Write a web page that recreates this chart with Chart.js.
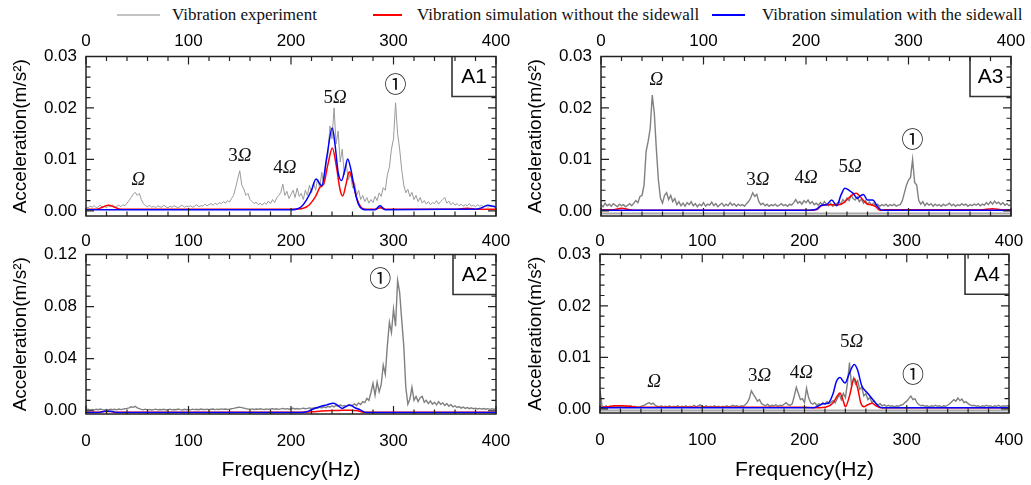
<!DOCTYPE html>
<html>
<head>
<meta charset="utf-8">
<script src="https://cdn.jsdelivr.net/npm/chart.js@4"></script>
<style>
  body { margin: 0; background: #fff; width: 1031px; height: 485px; overflow: hidden; position: relative; }
  canvas { position: absolute; }
  .leg-line { position: absolute; height: 2px; top: 14px; }
  .leg-text { position: absolute; top: 6px; font: 17px/17px "Liberation Serif", serif; color: #111; white-space: nowrap; }
</style>
</head>
<body>
<div class="leg-line" style="left:117px;width:43px;background:#c4c4c4"></div>
<span class="leg-text" style="left:172px">Vibration experiment</span>
<div class="leg-line" style="left:373px;width:29px;background:#ff0000"></div>
<span class="leg-text" style="left:417px">Vibration simulation without the sidewall</span>
<div class="leg-line" style="left:712px;width:33px;background:#0000ff"></div>
<span class="leg-text" style="left:762px">Vibration simulation with the sidewall</span>

<canvas id="cA1" width="515" height="202" style="left:0;top:28px"></canvas>
<canvas id="cA3" width="516" height="202" style="left:515px;top:28px"></canvas>
<canvas id="cA2" width="515" height="255" style="left:0;top:230px"></canvas>
<canvas id="cA4" width="516" height="255" style="left:515px;top:230px"></canvas>

<script>
// ---- axes ----
const xMajorTicks = [0, 100, 200, 300, 400];
const yMajorSmall = [0, 0.01, 0.02, 0.03];   // A1, A3, A4
const yMajorBig = [0, 0.04, 0.08, 0.12];     // A2
const minorSplit = 5;

// ---- experiment spectra, one value every 2 Hz from 0 to 400 Hz (m/s^2) ----
const grayStep = 2;
const a1Gray = [
  0.0008, 0.0006, 0.0009, 0.0007, 0.0010, 0.0006, 0.0008, 0.0011, 0.0007, 0.0009,
  0.0006, 0.0010, 0.0008, 0.0012, 0.0007, 0.0009, 0.0011, 0.0008, 0.0012, 0.0010,
  0.0015, 0.0020, 0.0026, 0.0032, 0.0036, 0.0030, 0.0034, 0.0022, 0.0014, 0.0010,
  0.0008, 0.0011, 0.0007, 0.0009, 0.0006, 0.0010, 0.0008, 0.0007, 0.0011, 0.0008,
  0.0006, 0.0009, 0.0007, 0.0010, 0.0008, 0.0006, 0.0009, 0.0011, 0.0007, 0.0009,
  0.0008, 0.0010, 0.0007, 0.0009, 0.0012, 0.0008, 0.0010, 0.0009, 0.0013, 0.0010,
  0.0012, 0.0014, 0.0011, 0.0015, 0.0012, 0.0016, 0.0014, 0.0018, 0.0015, 0.0020,
  0.0017, 0.0024, 0.0030, 0.0045, 0.0062, 0.0078, 0.0050, 0.0042, 0.0030, 0.0034,
  0.0022, 0.0018, 0.0014, 0.0017, 0.0012, 0.0015, 0.0011, 0.0016, 0.0013, 0.0019,
  0.0014, 0.0022, 0.0016, 0.0025, 0.0030, 0.0035, 0.0052, 0.0030, 0.0038, 0.0024,
  0.0032, 0.0040, 0.0026, 0.0044, 0.0028, 0.0034, 0.0022, 0.0040, 0.0030, 0.0050,
  0.0035, 0.0055, 0.0040, 0.0062, 0.0045, 0.0075, 0.0050, 0.0090, 0.0110, 0.0165,
  0.0140, 0.0200, 0.0130, 0.0155, 0.0095, 0.0120, 0.0070, 0.0090, 0.0060, 0.0075,
  0.0045, 0.0055, 0.0030, 0.0040, 0.0022, 0.0030, 0.0018, 0.0026, 0.0015, 0.0022,
  0.0016, 0.0028, 0.0020, 0.0035, 0.0028, 0.0045, 0.0040, 0.0070, 0.0085, 0.0120,
  0.0140, 0.0210, 0.0150, 0.0120, 0.0080, 0.0050, 0.0035, 0.0042, 0.0028, 0.0036,
  0.0022, 0.0030, 0.0018, 0.0026, 0.0015, 0.0020, 0.0013, 0.0018, 0.0012, 0.0016,
  0.0014, 0.0020, 0.0013, 0.0018, 0.0022, 0.0026, 0.0015, 0.0019, 0.0012, 0.0016,
  0.0011, 0.0014, 0.0010, 0.0013, 0.0009, 0.0012, 0.0010, 0.0014, 0.0009, 0.0011,
  0.0008, 0.0012, 0.0009, 0.0011, 0.0008, 0.0010, 0.0007, 0.0009, 0.0008, 0.0010,
  0.0007
];
const a3Gray = [
  0.0012, 0.0008, 0.0015, 0.0010, 0.0013, 0.0009, 0.0014, 0.0011, 0.0008, 0.0013,
  0.0010, 0.0012, 0.0008, 0.0011, 0.0014, 0.0010, 0.0015, 0.0020, 0.0016, 0.0028,
  0.0030, 0.0050, 0.0115, 0.0135, 0.0160, 0.0225, 0.0190, 0.0120, 0.0060, 0.0025,
  0.0015, 0.0030, 0.0035, 0.0022, 0.0030, 0.0018, 0.0024, 0.0012, 0.0018, 0.0010,
  0.0015, 0.0009, 0.0016, 0.0012, 0.0018, 0.0010, 0.0014, 0.0008, 0.0013, 0.0010,
  0.0016, 0.0009, 0.0013, 0.0011, 0.0017, 0.0010, 0.0014, 0.0008, 0.0012, 0.0015,
  0.0009, 0.0013, 0.0010, 0.0016, 0.0011, 0.0014, 0.0009, 0.0013, 0.0010, 0.0012,
  0.0009, 0.0014, 0.0018, 0.0025, 0.0035, 0.0028, 0.0032, 0.0018, 0.0012, 0.0015,
  0.0010, 0.0013, 0.0009, 0.0012, 0.0010, 0.0013, 0.0009, 0.0011, 0.0014, 0.0010,
  0.0012, 0.0009, 0.0013, 0.0011, 0.0016, 0.0022, 0.0015, 0.0018, 0.0013, 0.0020,
  0.0016, 0.0021, 0.0014, 0.0018, 0.0012, 0.0015, 0.0011, 0.0016, 0.0012, 0.0018,
  0.0013, 0.0010, 0.0015, 0.0009, 0.0012, 0.0014, 0.0018, 0.0013, 0.0022, 0.0017,
  0.0025, 0.0020, 0.0030, 0.0024, 0.0021, 0.0027, 0.0018, 0.0023, 0.0015, 0.0020,
  0.0013, 0.0017, 0.0011, 0.0015, 0.0010, 0.0013, 0.0009, 0.0012, 0.0010, 0.0013,
  0.0009, 0.0012, 0.0010, 0.0013, 0.0009, 0.0011, 0.0012, 0.0020, 0.0035, 0.0050,
  0.0060, 0.0065, 0.0100, 0.0055, 0.0050, 0.0020, 0.0013, 0.0018, 0.0010, 0.0015,
  0.0011, 0.0014, 0.0009, 0.0013, 0.0010, 0.0012, 0.0009, 0.0013, 0.0010, 0.0012,
  0.0015, 0.0010, 0.0013, 0.0009, 0.0012, 0.0010, 0.0014, 0.0011, 0.0013, 0.0009,
  0.0012, 0.0010, 0.0013, 0.0011, 0.0014, 0.0010, 0.0013, 0.0011, 0.0016, 0.0012,
  0.0018, 0.0013, 0.0019, 0.0014, 0.0017, 0.0012, 0.0016, 0.0011, 0.0014, 0.0010,
  0.0012
];
const a2Gray = [
  0.0008, 0.0012, 0.0006, 0.0010, 0.0007, 0.0011, 0.0008, 0.0013, 0.0009, 0.0007,
  0.0010, 0.0006, 0.0012, 0.0008, 0.0011, 0.0007, 0.0013, 0.0009, 0.0012, 0.0015,
  0.0018, 0.0022, 0.0030, 0.0026, 0.0034, 0.0022, 0.0016, 0.0011, 0.0008, 0.0012,
  0.0007, 0.0010, 0.0006, 0.0009, 0.0012, 0.0007, 0.0010, 0.0008, 0.0011, 0.0006,
  0.0009, 0.0012, 0.0007, 0.0010, 0.0008, 0.0013, 0.0009, 0.0006, 0.0011, 0.0008,
  0.0010, 0.0007, 0.0012, 0.0009, 0.0011, 0.0008, 0.0013, 0.0010, 0.0009, 0.0012,
  0.0008, 0.0011, 0.0013, 0.0009, 0.0012, 0.0010, 0.0014, 0.0011, 0.0013, 0.0010,
  0.0012, 0.0015, 0.0018, 0.0022, 0.0025, 0.0028, 0.0024, 0.0020, 0.0016, 0.0013,
  0.0011, 0.0014, 0.0010, 0.0013, 0.0011, 0.0015, 0.0012, 0.0010, 0.0014, 0.0011,
  0.0013, 0.0016, 0.0012, 0.0015, 0.0011, 0.0014, 0.0018, 0.0013, 0.0016, 0.0012,
  0.0015, 0.0019, 0.0014, 0.0017, 0.0013, 0.0016, 0.0020, 0.0015, 0.0018, 0.0022,
  0.0017, 0.0021, 0.0025, 0.0019, 0.0028, 0.0022, 0.0030, 0.0024, 0.0034, 0.0027,
  0.0038, 0.0030, 0.0042, 0.0033, 0.0045, 0.0036, 0.0040, 0.0032, 0.0046, 0.0038,
  0.0042, 0.0052, 0.0040, 0.0060, 0.0048, 0.0070, 0.0062, 0.0095, 0.0080, 0.0140,
  0.0210, 0.0120, 0.0220, 0.0145, 0.0200, 0.0350, 0.0280, 0.0500, 0.0680, 0.0600,
  0.0780, 0.0650, 0.1000, 0.0910, 0.0700, 0.0500, 0.0180, 0.0050, 0.0090, 0.0180,
  0.0080, 0.0110, 0.0070, 0.0100, 0.0110, 0.0065, 0.0080, 0.0055, 0.0075, 0.0050,
  0.0065, 0.0045, 0.0070, 0.0050, 0.0060, 0.0040, 0.0055, 0.0035, 0.0048, 0.0030,
  0.0038, 0.0025, 0.0032, 0.0020, 0.0028, 0.0018, 0.0025, 0.0016, 0.0022, 0.0015,
  0.0020, 0.0014, 0.0018, 0.0013, 0.0017, 0.0012, 0.0016, 0.0011, 0.0015, 0.0012,
  0.0014
];
const a4Gray = [
  0.0036, 0.0005, 0.0004, 0.0006, 0.0003, 0.0005, 0.0004, 0.0006, 0.0003, 0.0005,
  0.0004, 0.0006, 0.0003, 0.0005, 0.0004, 0.0006, 0.0003, 0.0005, 0.0004, 0.0003,
  0.0005, 0.0006, 0.0008, 0.0010, 0.0012, 0.0009, 0.0011, 0.0007, 0.0005, 0.0004,
  0.0006, 0.0003, 0.0005, 0.0004, 0.0006, 0.0003, 0.0005, 0.0004, 0.0006, 0.0003,
  0.0005, 0.0004, 0.0006, 0.0003, 0.0005, 0.0004, 0.0007, 0.0004, 0.0006, 0.0008,
  0.0005, 0.0004, 0.0006, 0.0003, 0.0005, 0.0004, 0.0006, 0.0004, 0.0005, 0.0003,
  0.0005, 0.0004, 0.0006, 0.0004, 0.0005, 0.0007, 0.0005, 0.0006, 0.0004, 0.0006,
  0.0005, 0.0008, 0.0012, 0.0020, 0.0035, 0.0028, 0.0022, 0.0015, 0.0018, 0.0010,
  0.0008, 0.0006, 0.0009, 0.0005, 0.0007, 0.0006, 0.0008, 0.0005, 0.0007, 0.0006,
  0.0009, 0.0012, 0.0008, 0.0007, 0.0010, 0.0025, 0.0042, 0.0030, 0.0018, 0.0020,
  0.0012, 0.0040, 0.0022, 0.0012, 0.0009, 0.0012, 0.0007, 0.0010, 0.0008, 0.0012,
  0.0009, 0.0014, 0.0010, 0.0013, 0.0016, 0.0012, 0.0020, 0.0028, 0.0018, 0.0030,
  0.0022, 0.0050, 0.0090, 0.0045, 0.0060, 0.0048, 0.0055, 0.0038, 0.0042, 0.0025,
  0.0030, 0.0018, 0.0022, 0.0012, 0.0016, 0.0010, 0.0008, 0.0010, 0.0006, 0.0008,
  0.0005, 0.0007, 0.0005, 0.0006, 0.0004, 0.0006, 0.0005, 0.0007, 0.0008, 0.0012,
  0.0015, 0.0020, 0.0025, 0.0018, 0.0020, 0.0012, 0.0008, 0.0006, 0.0007, 0.0005,
  0.0006, 0.0004, 0.0006, 0.0005, 0.0007, 0.0005, 0.0006, 0.0004, 0.0006, 0.0005,
  0.0007, 0.0010, 0.0014, 0.0018, 0.0015, 0.0021, 0.0016, 0.0019, 0.0012, 0.0014,
  0.0010, 0.0008, 0.0006, 0.0007, 0.0005, 0.0006, 0.0004, 0.0006, 0.0005, 0.0007,
  0.0005, 0.0006, 0.0004, 0.0006, 0.0005, 0.0007, 0.0004, 0.0006, 0.0005, 0.0006,
  0.0005
];

// ---- simulations: frequency (Hz) / amplitude (m/s^2) pairs ----
const a1RedF = [0, 10, 16, 22, 28, 34, 120, 200, 212, 218, 224, 228, 232, 236, 240.3, 244, 248, 250.4, 253.5, 256.9, 260.5, 264, 268, 272, 282, 287, 292, 360, 372, 382, 400];
const a1RedA = [0.0003, 0.0003, 0.0007, 0.0011, 0.0007, 0.0003, 0.0003, 0.0003, 0.0005, 0.0012, 0.0028, 0.0045, 0.0053, 0.0090, 0.0122, 0.0090, 0.0040, 0.0029, 0.0050, 0.0076, 0.0055, 0.0025, 0.0008, 0.0003, 0.0003, 0.0006, 0.0003, 0.0003, 0.0005, 0.0003, 0.0003];
const a1BlueF = [0, 100, 200, 205, 210, 215, 220, 224.4, 230, 235, 240.3, 243, 246, 249.4, 252.5, 255.3, 258.5, 262, 266, 270, 274, 282, 286.8, 292, 350, 380, 386, 392, 397, 400];
const a1BlueA = [0.0002, 0.0002, 0.0002, 0.0003, 0.0008, 0.0021, 0.0040, 0.0062, 0.0049, 0.0106, 0.0161, 0.0128, 0.0075, 0.0059, 0.0080, 0.0101, 0.0080, 0.0042, 0.0012, 0.0003, 0.0002, 0.0002, 0.0010, 0.0002, 0.0003, 0.0003, 0.0006, 0.0011, 0.0009, 0.0007];

const a3RedF = [0, 12, 20, 28, 36, 200, 210, 215, 220, 226, 232, 237, 242, 246, 249, 252, 256, 260, 264, 268, 272, 276, 370, 382, 392, 400];
const a3RedA = [0.0002, 0.0002, 0.0005, 0.0002, 0.0001, 0.0001, 0.0002, 0.0010, 0.0012, 0.0012, 0.0012, 0.0016, 0.0026, 0.0032, 0.0034, 0.0030, 0.0020, 0.0013, 0.0012, 0.0008, 0.0001, 0.0002, 0.0002, 0.0004, 0.0002, 0.0002];
const a3BlueF = [0, 200, 210, 215, 220, 225, 230, 234, 238, 242, 246, 250, 253, 256, 260, 265, 270, 274, 400];
const a3BlueA = [0.0001, 0.0001, 0.0003, 0.0011, 0.0012, 0.0021, 0.0010, 0.0030, 0.0044, 0.0040, 0.0034, 0.0024, 0.0029, 0.0032, 0.0021, 0.0021, 0.0008, 0.0001, 0.0001];

const a2RedF = [0, 12, 18, 24, 30, 210, 220, 230, 240, 250, 258, 265, 272, 400];
const a2RedA = [-0.0012, -0.0012, -0.0006, -0.0006, -0.0012, -0.0012, -0.0008, -0.0002, 0.0002, 0.0003, 0.0004, 0.0000, -0.0012, -0.0012];
const a2BlueF = [0, 12, 18, 24, 30, 210, 215, 220, 228, 235, 241, 245, 250, 254, 257.5, 262, 268, 273, 400];
const a2BlueA = [-0.0013, -0.0013, -0.0004, -0.0004, -0.0013, -0.0013, -0.0008, 0.0008, 0.0030, 0.0045, 0.0057, 0.0045, 0.0018, 0.0035, 0.0044, 0.0025, 0.0005, -0.0013, -0.0013];

const a4RedF = [0, 8, 14, 22, 30, 36, 200, 212, 222, 228, 232, 234.7, 238, 240, 244, 248.7, 252, 255, 258, 262, 266, 270, 275, 400];
const a4RedA = [0.0003, 0.0004, 0.0006, 0.0006, 0.0005, 0.0003, 0.0003, 0.0002, 0.0004, 0.0012, 0.0025, 0.0031, 0.0015, 0.0004, 0.0025, 0.0059, 0.0040, 0.0012, 0.0004, 0.0008, 0.0011, 0.0006, 0.0002, 0.0002];
const a4BlueF = [0, 200, 208, 214, 218, 223, 228, 231, 234.7, 239.6, 244, 248.7, 252, 256, 262, 268, 272, 276, 400];
const a4BlueA = [0.0002, 0.0002, 0.0002, 0.0006, 0.0010, 0.0011, 0.0030, 0.0052, 0.0061, 0.0050, 0.0070, 0.0086, 0.0075, 0.0045, 0.0030, 0.0015, 0.0006, 0.0002, 0.0002];

// ---- peak labels (text, frequency, amplitude) ----
const a1NoteText = ['Ω', '3Ω', '4Ω', '5Ω', '①'];
const a1NoteF = [51, 150, 194, 243, 302];
const a1NoteA = [0.0059, 0.0107, 0.0083, 0.0219, 0.0248];
const a3NoteText = ['Ω', '3Ω', '4Ω', '5Ω', '①'];
const a3NoteF = [54, 153, 200, 243, 304];
const a3NoteA = [0.0255, 0.0060, 0.0064, 0.0086, 0.0141];
const a2NoteText = ['①'];
const a2NoteF = [287];
const a2NoteA = [0.1025];
const a4NoteText = ['Ω', '3Ω', '4Ω', '5Ω', '①'];
const a4NoteF = [53, 156, 197, 246, 306];
const a4NoteA = [0.0053, 0.0063, 0.0069, 0.0130, 0.0069];

Chart.defaults.font.family = '"Liberation Sans", Arial, sans-serif';
Chart.defaults.color = '#000';

function withMinor(majors) {
  const out = [];
  for (let i = 0; i < majors.length - 1; i++) {
    for (let k = 0; k < minorSplit; k++) out.push(majors[i] + (majors[i + 1] - majors[i]) * k / minorSplit);
  }
  out.push(majors[majors.length - 1]);
  return out;
}
const isMajor = (majors, v) => majors.some(m => Math.abs(m - v) < 1e-9);
const evenPts = (vals) => vals.map((v, i) => ({ x: i * grayStep, y: v }));
const pairPts = (fs, as) => fs.map((f, i) => ({ x: f, y: as[i] }));

function drawNote(ctx, text, x, y) {
  ctx.fillStyle = '#111';
  ctx.textBaseline = 'middle';
  if (text === '①') {
    ctx.textAlign = 'center';
    ctx.font = '22px "Noto Sans CJK JP"';
    ctx.fillText(text, x, y);
    return;
  }
  const num = text.slice(0, -1);
  ctx.font = '19px "Liberation Serif"';
  const w1 = ctx.measureText(num).width;
  ctx.font = 'italic 19px "Liberation Serif"';
  const w2 = ctx.measureText('Ω').width;
  const sx = x - (w1 + w2) / 2;
  ctx.textAlign = 'left';
  ctx.font = '19px "Liberation Serif"';
  ctx.fillText(num, sx, y);
  ctx.font = 'italic 19px "Liberation Serif"';
  ctx.fillText('Ω', sx + w1, y);
}

const panelFrame = {
  id: 'panelFrame',
  afterDatasetsDraw(chart, args, o) {
    const { ctx, chartArea: a } = chart;
    const xs = chart.scales.x, ys = chart.scales.y;
    ctx.save();
    // light grey double line just above the bottom axis (A3, A4)
    if (o.band) {
      ctx.strokeStyle = '#a8a8a8';
      ctx.lineWidth = 2;
      ctx.beginPath();
      ctx.moveTo(a.left, a.bottom - 2.5);
      ctx.lineTo(a.right, a.bottom - 2.5);
      ctx.stroke();
    }
    // panel name box
    ctx.fillStyle = '#fff';
    ctx.fillRect(a.right - o.boxW, a.top, o.boxW, 40);
    ctx.strokeStyle = '#333';
    ctx.lineWidth = 1.6;
    ctx.beginPath();
    ctx.moveTo(a.right - o.boxW, a.top);
    ctx.lineTo(a.right - o.boxW, a.top + 40);
    ctx.lineTo(a.right, a.top + 40);
    ctx.stroke();
    ctx.fillStyle = '#000';
    ctx.font = '21px "Liberation Sans"';
    ctx.textAlign = 'center';
    ctx.textBaseline = 'middle';
    ctx.fillText(o.name, a.right - o.boxW / 2, a.top + 21);
    // inward ticks on all four sides
    ctx.strokeStyle = '#222';
    ctx.lineWidth = 1.2;
    ctx.beginPath();
    xs.ticks.forEach(t => {
      const px = xs.getPixelForValue(t.value);
      const len = isMajor(xMajorTicks, t.value) ? 8 : 4.5;
      ctx.moveTo(px, a.top); ctx.lineTo(px, a.top + len);
      ctx.moveTo(px, a.bottom); ctx.lineTo(px, a.bottom - len);
    });
    ys.ticks.forEach(t => {
      const py = ys.getPixelForValue(t.value);
      const len = isMajor(o.yMajors, t.value) ? 8 : 4.5;
      ctx.moveTo(a.left, py); ctx.lineTo(a.left + len, py);
      ctx.moveTo(a.right, py); ctx.lineTo(a.right - len, py);
    });
    ctx.stroke();
    ctx.lineWidth = 1.5;
    ctx.strokeRect(a.left, a.top, a.right - a.left, a.bottom - a.top);
    // peak labels
    o.notes.text.forEach((t, i) => {
      drawNote(ctx, t, xs.getPixelForValue(o.notes.f[i]), ys.getPixelForValue(o.notes.a[i]));
    });
    ctx.restore();
  }
};

function xAxis(position, height, padding, withTitle) {
  return {
    type: 'linear', position, min: 0, max: 400,
    afterBuildTicks: s => { s.ticks = withMinor(xMajorTicks).map(v => ({ value: v })); },
    afterFit: s => { s.height = height; s.paddingLeft = 0; s.paddingRight = 0; },
    grid: { display: false, drawTicks: false },
    border: { display: false },
    ticks: {
      autoSkip: false, maxRotation: 0, padding,
      font: { size: 17 }, color: '#000',
      callback: v => isMajor(xMajorTicks, v) ? String(v) : ''
    },
    title: {
      display: withTitle, text: 'Frequency(Hz)', color: '#000',
      font: { size: 21 }, padding: { top: 0, bottom: 2.4 }
    }
  };
}

function panel(p) {
  const scales = {
    x: xAxis('top', p.topH, p.topPad, false),
    y: {
      type: 'linear', min: p.yMin, max: p.yMax,
      afterBuildTicks: s => { s.ticks = withMinor(p.yMajors).map(v => ({ value: v })); },
      afterFit: s => { s.width = p.leftW; s.paddingTop = 0; s.paddingBottom = 0; },
      grid: { display: false, drawTicks: false },
      border: { display: false },
      ticks: {
        autoSkip: false, padding: 9, font: { size: 17 }, color: '#000',
        callback: v => isMajor(p.yMajors, v) ? v.toFixed(2) : ''
      },
      title: {
        display: true, text: 'Acceleration(m/s²)', color: '#000',
        font: { size: 19 }, padding: { top: 9.6, bottom: 0 }
      }
    }
  };
  if (p.bottomH) scales.xb = xAxis('bottom', p.bottomH, 17, true);

  new Chart(document.getElementById(p.id), {
    type: 'line',
    data: {
      datasets: [
        { label: 'Vibration experiment', data: evenPts(p.gray), borderColor: p.grayColor, borderWidth: p.grayWidth, order: 3 },
        { label: 'Vibration simulation without the sidewall', data: pairPts(p.redF, p.redA), borderColor: '#ff0000', borderWidth: 1.5, cubicInterpolationMode: 'monotone', order: 2 },
        { label: 'Vibration simulation with the sidewall', data: pairPts(p.blueF, p.blueA), borderColor: '#0000ff', borderWidth: 1.5, cubicInterpolationMode: 'monotone', order: 1 }
      ]
    },
    options: {
      responsive: false,
      animation: false,
      devicePixelRatio: 1,
      layout: { padding: { top: 0, left: 0, right: p.rightPad, bottom: p.bottomPad } },
      elements: { point: { radius: 0 } },
      plugins: {
        legend: { display: false },
        tooltip: { enabled: false },
        panelFrame: { name: p.name, boxW: p.boxW, yMajors: p.yMajors, notes: p.notes, band: p.band }
      },
      scales
    },
    plugins: [panelFrame]
  });
}

panel({
  id: 'cA1', name: 'A1', boxW: 44, topH: 28.5, topPad: 4.6, bottomPad: 14, leftW: 86, rightPad: 19,
  yMin: -0.001, yMax: 0.03, yMajors: yMajorSmall,
  gray: a1Gray, grayColor: '#9a9a9a', grayWidth: 1,
  redF: a1RedF, redA: a1RedA, blueF: a1BlueF, blueA: a1BlueA,
  notes: { text: a1NoteText, f: a1NoteF, a: a1NoteA }
});
panel({
  id: 'cA3', name: 'A3', boxW: 41, topH: 28.5, topPad: 4.6, bottomPad: 14, leftW: 86, rightPad: 20, band: true,
  yMin: -0.001, yMax: 0.03, yMajors: yMajorSmall,
  gray: a3Gray, grayColor: '#808080', grayWidth: 1.4,
  redF: a3RedF, redA: a3RedA, blueF: a3BlueF, blueA: a3BlueA,
  notes: { text: a3NoteText, f: a3NoteF, a: a3NoteA }
});
panel({
  id: 'cA2', name: 'A2', boxW: 43, topH: 24.5, topPad: 2.6, bottomPad: 0, bottomH: 71, leftW: 86, rightPad: 19,
  yMin: -0.0025, yMax: 0.12, yMajors: yMajorBig,
  gray: a2Gray, grayColor: '#808080', grayWidth: 1.4,
  redF: a2RedF, redA: a2RedA, blueF: a2BlueF, blueA: a2BlueA,
  notes: { text: a2NoteText, f: a2NoteF, a: a2NoteA }
});
panel({
  id: 'cA4', name: 'A4', boxW: 44, topH: 24.3, topPad: 2.6, bottomPad: 0, bottomH: 72, leftW: 85, rightPad: 22, band: true,
  yMin: -0.0008, yMax: 0.03, yMajors: yMajorSmall,
  gray: a4Gray, grayColor: '#808080', grayWidth: 1.4,
  redF: a4RedF, redA: a4RedA, blueF: a4BlueF, blueA: a4BlueA,
  notes: { text: a4NoteText, f: a4NoteF, a: a4NoteA }
});
</script>
</body>
</html>
